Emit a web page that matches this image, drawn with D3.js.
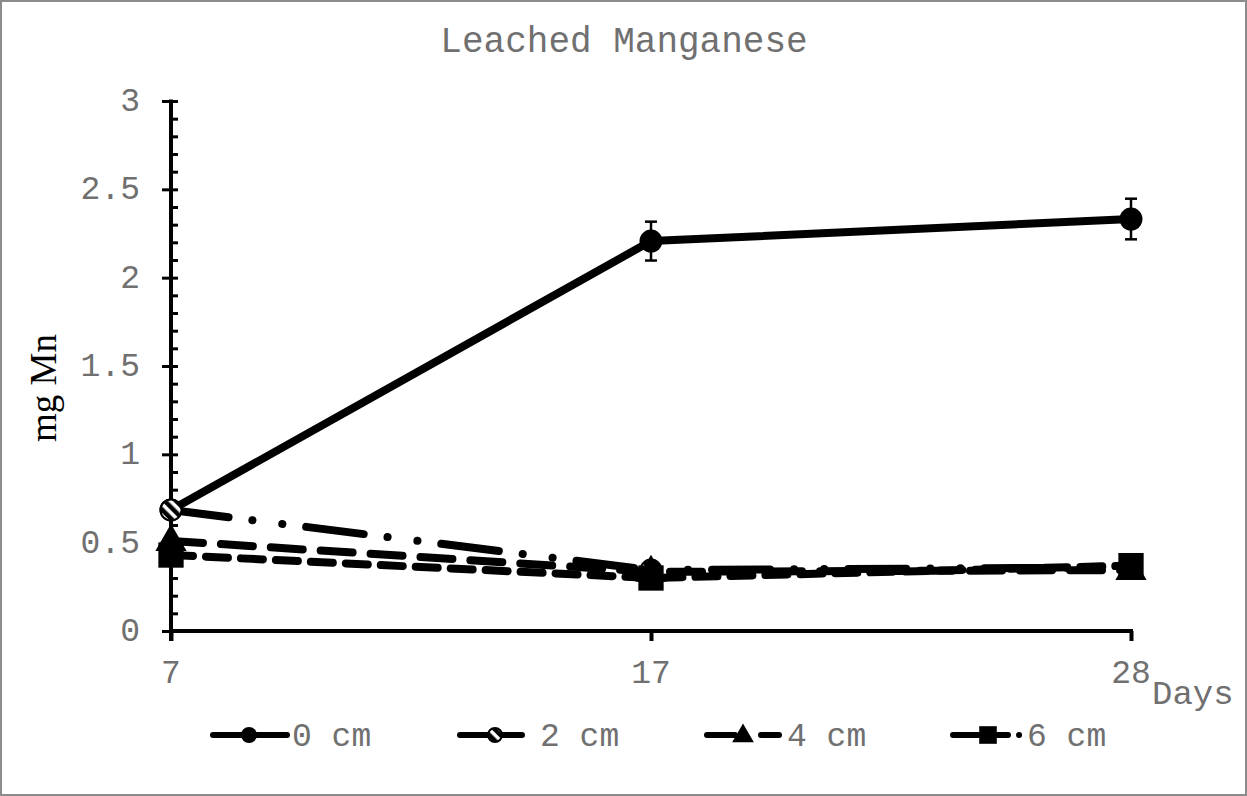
<!DOCTYPE html>
<html>
<head>
<meta charset="utf-8">
<script src="https://cdn.jsdelivr.net/npm/d3@7"></script>
<style>
  html, body { margin: 0; padding: 0; background: #fff; }
  svg { display: block; }
</style>
</head>
<body>
<div id="chart"></div>
<script>
// data
const days = ['7', '17', '28'];
const yTicks = [0, 0.5, 1, 1.5, 2, 2.5, 3];
const seriesNames = ['0 cm', '2 cm', '4 cm', '6 cm'];
const mn0 = [0.685, 2.207, 2.332];
const mn0Err = [0.02, 0.11, 0.115];
const mn2 = [0.685, 0.345, 0.36];
const mn4 = [0.51, 0.335, 0.345];
const mn6 = [0.43, 0.30, 0.37];

const W = 1247, H = 796;
const monoFont = '"Liberation Mono", "Courier New", monospace';
const grey = '#707070';

const svg = d3.select('#chart').append('svg')
  .attr('width', W).attr('height', H);

// hatch for the 2 cm marker
const defs = svg.append('defs');
defs.append('pattern')
  .attr('id', 'hatch')
  .attr('patternUnits', 'userSpaceOnUse')
  .attr('width', 8).attr('height', 8)
  .attr('patternTransform', 'rotate(-45)')
  .append('rect')
  .attr('width', 4.5).attr('height', 8)
  .attr('fill', '#000');

// outer frame
svg.append('rect')
  .attr('x', 1).attr('y', 1).attr('width', W - 2).attr('height', H - 2)
  .attr('fill', '#fff').attr('stroke', '#8c8c8c').attr('stroke-width', 2);

const x = d3.scalePoint().domain(days).range([171, 1131]);
const y = d3.scaleLinear().domain([0, 3]).range([631, 101]);

// title
svg.append('text')
  .attr('x', 624).attr('y', 52)
  .attr('text-anchor', 'middle')
  .style('font-family', monoFont).style('font-size', '36px')
  .attr('fill', grey)
  .text('Leached Manganese');

// y axis
const yAxis = svg.append('g').attr('transform', `translate(${x('7')},0)`);
yAxis.call(d3.axisRight(y).tickValues(d3.range(0, 3.01, 0.1)).tickSize(7).tickFormat(''))
  .call(g => g.select('.domain').remove())
  .call(g => g.selectAll('line').attr('stroke', '#000').attr('stroke-width', 3));
yAxis.append('g')
  .call(d3.axisLeft(y).tickValues(yTicks).tickSize(9).tickFormat(''))
  .call(g => g.select('.domain').remove())
  .call(g => g.selectAll('line').attr('stroke', '#000').attr('stroke-width', 3));
yAxis.append('line')
  .attr('y1', y(3) - 1.5).attr('y2', y(0) + 10)
  .attr('stroke', '#000').attr('stroke-width', 4);

svg.append('g').selectAll('text')
  .data(yTicks)
  .join('text')
  .attr('x', 140).attr('y', d => y(d) + 10)
  .attr('text-anchor', 'end')
  .style('font-family', monoFont).style('font-size', '33px')
  .attr('fill', grey)
  .text(d => d);

svg.append('text')
  .attr('transform', `translate(56,388) rotate(-90)`)
  .attr('text-anchor', 'middle')
  .style('font-family', '"Liberation Serif", "Times New Roman", serif')
  .style('font-size', '37px')
  .attr('fill', '#000')
  .text('mg Mn');

// x axis
const xAxis = svg.append('g').attr('transform', `translate(0,${y(0)})`);
xAxis.call(d3.axisBottom(x).tickSize(10).tickFormat(''))
  .call(g => g.select('.domain').remove())
  .call(g => g.selectAll('line').attr('stroke', '#000').attr('stroke-width', 4));
xAxis.append('line')
  .attr('x1', x('7')).attr('x2', x('28') + 2)
  .attr('stroke', '#000').attr('stroke-width', 4);

svg.append('g').selectAll('text')
  .data(days)
  .join('text')
  .attr('x', d => x(d)).attr('y', 683)
  .attr('text-anchor', 'middle')
  .style('font-family', monoFont).style('font-size', '33px')
  .attr('fill', grey)
  .text(d => d);

svg.append('text')
  .attr('x', 1152).attr('y', 704)
  .style('font-family', monoFont).style('font-size', '34px')
  .attr('fill', grey)
  .text('Days');

// series styles
const series = [
  { name: seriesNames[0], values: mn0, err: mn0Err, dash: null, width: 8, marker: 'circle' },
  { name: seriesNames[1], values: mn2, err: null, dash: '58,24,0.1,30,0.1,24', width: 8, marker: 'hatch' },
  { name: seriesNames[2], values: mn4, err: null, dash: '32,18', width: 8, marker: 'triangle' },
  { name: seriesNames[3], values: mn6, err: null, dash: '22,13', width: 8, marker: 'square' },
];

const line = d3.line().x((d, i) => x(days[i])).y(d => y(d));

function drawMarker(g, kind, cx, cy, s) {
  if (kind === 'circle') {
    g.append('circle').attr('cx', cx).attr('cy', cy).attr('r', s)
      .attr('fill', '#000');
  } else if (kind === 'hatch') {
    g.append('circle').attr('cx', cx).attr('cy', cy).attr('r', s - 1)
      .attr('fill', '#fff');
    g.append('circle').attr('cx', cx).attr('cy', cy).attr('r', s - 1)
      .attr('fill', 'url(#hatch)').attr('stroke', '#000').attr('stroke-width', 2);
  } else if (kind === 'triangle') {
    g.append('path')
      .attr('d', d3.symbol(d3.symbolTriangle, s * s * 3.2)())
      .attr('transform', `translate(${cx},${cy + 1})`)
      .attr('fill', '#000');
  } else {
    g.append('rect')
      .attr('x', cx - s * 1.1).attr('y', cy - s * 1.1)
      .attr('width', s * 2.2).attr('height', s * 2.2)
      .attr('fill', '#000');
  }
}

const plot = svg.append('g');
series.forEach(s => {
  const g = plot.append('g');
  g.append('path')
    .datum(s.values)
    .attr('d', line)
    .attr('fill', 'none')
    .attr('stroke', '#000')
    .attr('stroke-width', s.width)
    .attr('stroke-linecap', 'round')
    .attr('stroke-linejoin', 'round')
    .attr('stroke-dasharray', s.dash);

  if (s.err) {
    s.values.forEach((v, i) => {
      const cx = x(days[i]);
      const e = s.err[i];
      g.append('line').attr('x1', cx).attr('x2', cx)
        .attr('y1', y(v + e)).attr('y2', y(v - e))
        .attr('stroke', '#000').attr('stroke-width', 2.5);
      [v + e, v - e].forEach(t => {
        g.append('line').attr('x1', cx - 6).attr('x2', cx + 6)
          .attr('y1', y(t)).attr('y2', y(t))
          .attr('stroke', '#000').attr('stroke-width', 2.5);
      });
    });
  }

  s.values.forEach((v, i) => drawMarker(g, s.marker, x(days[i]), y(v), 11.5));
});

// legend
const legendItems = [
  { x0: 213, x1: 287, mx: 249, tx: 292, dash: null },
  { x0: 460, x1: 522, mx: 495, tx: 540, dash: null },
  { x0: 707, x1: 780, mx: 743, tx: 787, dash: '28,26,18' },
  { x0: 953, x1: 1021, mx: 988, tx: 1027, dash: '55,11,0.1' },
];
const legend = svg.append('g');
legendItems.forEach((it, i) => {
  const g = legend.append('g');
  g.append('line')
    .attr('x1', it.x0).attr('x2', it.x1).attr('y1', 735).attr('y2', 735)
    .attr('stroke', '#000').attr('stroke-width', 6)
    .attr('stroke-linecap', 'round')
    .attr('stroke-dasharray', it.dash);
  drawMarker(g, series[i].marker, it.mx, 735, 8);
  g.append('text')
    .attr('x', it.tx).attr('y', 746)
    .style('font-family', monoFont).style('font-size', '33px')
    .attr('fill', grey)
    .text(series[i].name);
});
</script>
</body>
</html>
